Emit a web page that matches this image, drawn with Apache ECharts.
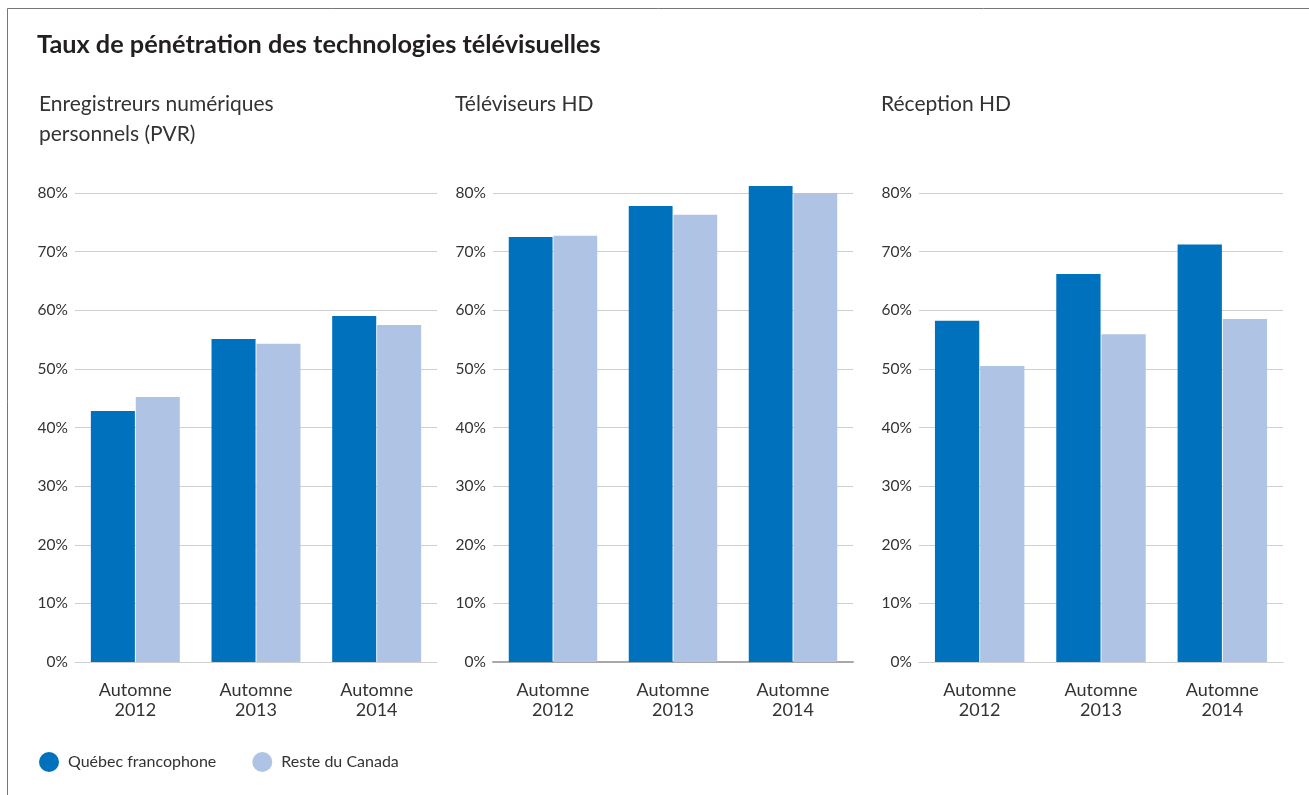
<!DOCTYPE html>
<html>
<head>
<meta charset="utf-8">
<script src="https://cdn.jsdelivr.net/npm/echarts@6/dist/echarts.min.js"></script>
<style>
html,body{margin:0;padding:0;background:#fff;}
#chart{width:1309px;height:795px;}
</style>
</head>
<body>
<div id="chart"></div>
<script>
var categories = ['Automne\n2012', 'Automne\n2013', 'Automne\n2014'];
var seriesNames = ['Québec francophone', 'Reste du Canada'];
var panelTitles = ['Enregistreurs numériques\npersonnels (PVR)', 'Téléviseurs HD', 'Réception HD'];
var pvrQuebec = [42.8, 55.1, 59.0];
var pvrCanada = [45.2, 54.3, 57.5];
var tvhdQuebec = [72.5, 77.8, 81.2];
var tvhdCanada = [72.7, 76.3, 80.0];
var rechdQuebec = [58.2, 66.2, 71.2];
var rechdCanada = [50.5, 55.9, 58.5];
var yTicks = {min: 0, max: 80, interval: 10};

var chart = echarts.init(document.getElementById('chart'), null, {renderer: 'canvas'});
var FONT = 'Lato, "Open Sans", sans-serif';
var DARK = '#0071BC', LIGHT = '#AFC4E4';
var panels = [
  {left: 75, right: 872, q: pvrQuebec, c: pvrCanada, tx: 39, axisColor: '#cfcfcf', axisWidth: 1},
  {left: 493, right: 456, q: tvhdQuebec, c: tvhdCanada, tx: 455, axisColor: '#a9a9a9', axisWidth: 2},
  {left: 919, right: 26, q: rechdQuebec, c: rechdCanada, tx: 881, axisColor: '#cfcfcf', axisWidth: 1}
];
var grids = [], xAxes = [], yAxes = [], series = [], titles = [];
titles.push({text: 'Taux de pénétration des technologies télévisuelles', left: 37, top: 32, padding: 0,
  textStyle: {fontFamily: FONT, fontSize: 25.3, fontWeight: 'bold', color: '#231f20'}});
panels.forEach(function (p, i) {
  titles.push({text: panelTitles[i], left: p.tx, top: 89, padding: 0,
    textStyle: {fontFamily: FONT, fontSize: 21, fontWeight: 'normal', color: '#333', lineHeight: 30}});
  grids.push({left: p.left, right: p.right, top: 193, bottom: 133, containLabel: false});
  xAxes.push({type: 'category', gridIndex: i, data: categories,
    axisLine: {show: true, lineStyle: {color: p.axisColor, width: p.axisWidth}},
    axisTick: {show: false},
    axisLabel: {fontFamily: FONT, fontSize: 18, color: '#333', lineHeight: 20, margin: 18}});
  yAxes.push({type: 'value', gridIndex: i, min: yTicks.min, max: yTicks.max, interval: yTicks.interval,
    axisLine: {show: false}, axisTick: {show: false},
    splitLine: {lineStyle: {color: '#cfcfcf', width: 1}},
    axisLabel: {fontFamily: FONT, fontSize: 15.5, color: '#333', margin: 7, formatter: '{value}%'}});
  series.push({name: seriesNames[0], type: 'bar', xAxisIndex: i, yAxisIndex: i, data: p.q, clip: false,
    itemStyle: {color: DARK}, barWidth: '36.5%', barGap: '2%'});
  series.push({name: seriesNames[1], type: 'bar', xAxisIndex: i, yAxisIndex: i, data: p.c, clip: false,
    itemStyle: {color: LIGHT}, barWidth: '36.5%', barGap: '2%'});
});

chart.setOption({
  animation: false,
  backgroundColor: '#fff',
  title: titles,
  legend: {data: seriesNames, left: 39, top: 752, padding: 0, icon: 'circle', itemWidth: 20, itemHeight: 20, itemGap: 36,
    textStyle: {fontFamily: FONT, fontSize: 16, color: '#333', padding: [0, 0, 0, 4]}},
  grid: grids, xAxis: xAxes, yAxis: yAxes, series: series,
  graphic: [{type: 'polyline', shape: {points: [[7.5, 795], [7.5, 8.5], [1309, 8.5]]},
    style: {stroke: '#777', lineWidth: 1, fill: null}, silent: true}]
});
</script>
</body>
</html>
